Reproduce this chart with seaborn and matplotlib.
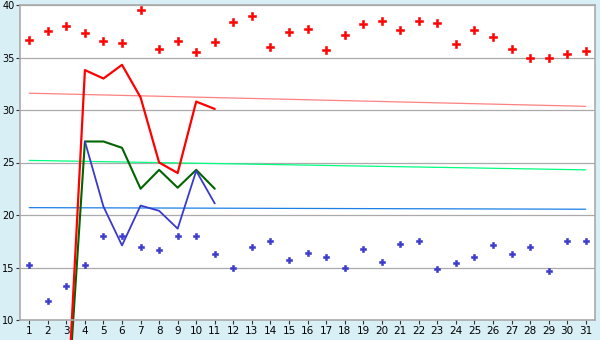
import numpy as np
import pandas as pd
import matplotlib
matplotlib.use("Agg")
import matplotlib.pyplot as plt
import seaborn as sns

days = list(range(1, 32))
max_pts = [36.7, 37.5, 38.0, 37.3, 36.6, 36.4, 39.5, 35.8, 36.6, 35.5,
           36.5, 38.35, 39.0, 36.0, 37.4, 37.7, 35.7, 37.1, 38.2, 38.5,
           37.6, 38.5, 38.25, 36.25, 37.6, 37.0, 35.8, 35.0, 35.0, 35.3, 35.6]
min_pts = [15.2, 11.8, 13.2, 15.2, 18.0, 18.0, 17.0, 16.7, 18.0, 18.0,
           16.3, 15.0, 17.0, 17.5, 15.7, 16.4, 16.0, 15.0, 16.8, 15.5,
           17.2, 17.5, 14.9, 15.4, 16.0, 17.1, 16.3, 17.0, 14.7, 17.5, 17.5]
line_days = [3, 4, 5, 6, 7, 8, 9, 10, 11]
red_line = [0.0, 33.8, 33.0, 34.3, 31.2, 25.0, 24.0, 30.8, 30.1]
green_line = [0.0, 27.0, 27.0, 26.4, 22.5, 24.3, 22.6, 24.3, 22.5]
blue_days = [4, 5, 6, 7, 8, 9, 10, 11]
blue_line = [27.0, 20.8, 17.1, 20.9, 20.4, 18.7, 24.2, 21.1]
trend_days = [1, 31]
trend_red = [31.6, 30.35]
trend_green = [25.2, 24.3]
trend_blue = [20.7, 20.55]
yticks = [10, 15, 20, 25, 30, 35, 40]

sns.set_theme(style="white")
plt.rcParams['font.family'] = ['DejaVu Sans']

bg = "#d9eff6"
fig = plt.figure(figsize=(6, 3.4), dpi=100, facecolor=bg)
ax = fig.add_axes([20/600, 20/340, 575/600, 315/340])
ax.set_facecolor("white")

ax.set_xlim(0.5, 31.5)
ax.set_ylim(10, 40)
ax.set_yticks(yticks)
ax.set_xticks(days)
ax.yaxis.grid(True, color="#aaaaaa", linewidth=0.9)
ax.xaxis.grid(False)
ax.set_axisbelow(True)
for s in ax.spines.values():
    s.set_color("#aaaaaa")
    s.set_linewidth(1.2)

tr = pd.DataFrame({"x": trend_days, "r": trend_red, "g": trend_green, "b": trend_blue})
sns.lineplot(data=tr, x="x", y="r", ax=ax, color="#ff8080", linewidth=0.9, estimator=None)
sns.lineplot(data=tr, x="x", y="g", ax=ax, color="#00ff80", linewidth=0.9, estimator=None)
sns.lineplot(data=tr, x="x", y="b", ax=ax, color="#1a80e6", linewidth=0.9, estimator=None)

ld = pd.DataFrame({"x": line_days, "r": red_line, "g": green_line})
bd = pd.DataFrame({"x": blue_days, "b": blue_line})
sns.lineplot(data=ld, x="x", y="g", ax=ax, color="#006400", linewidth=1.5, estimator=None)
sns.lineplot(data=bd, x="x", y="b", ax=ax, color="#3a3acc", linewidth=1.3, estimator=None)
sns.lineplot(data=ld, x="x", y="r", ax=ax, color="#ff0000", linewidth=1.6, estimator=None)
for ln in ax.lines:
    ln.set_clip_on(False)

pts = pd.DataFrame({"d": days, "mx": max_pts, "mn": min_pts})
sns.scatterplot(data=pts, x="d", y="mx", ax=ax, color="#ff0000", marker="P", s=28,
                edgecolor="#ff0000", linewidth=0.4)
sns.scatterplot(data=pts, x="d", y="mn", ax=ax, color="#3a3acc", marker="P", s=22,
                edgecolor="#3a3acc", linewidth=0.4)

ax.set_xlabel("")
ax.set_ylabel("")
ax.tick_params(axis="both", which="both", direction="out", length=3, width=0.8,
               color="#333333", labelcolor="black", pad=1.5,
               bottom=True, left=True)
ax.tick_params(axis="x", labelsize=7.5)
ax.tick_params(axis="y", labelsize=7, pad=1)

fig.savefig("out.png", dpi=100, facecolor=bg)
